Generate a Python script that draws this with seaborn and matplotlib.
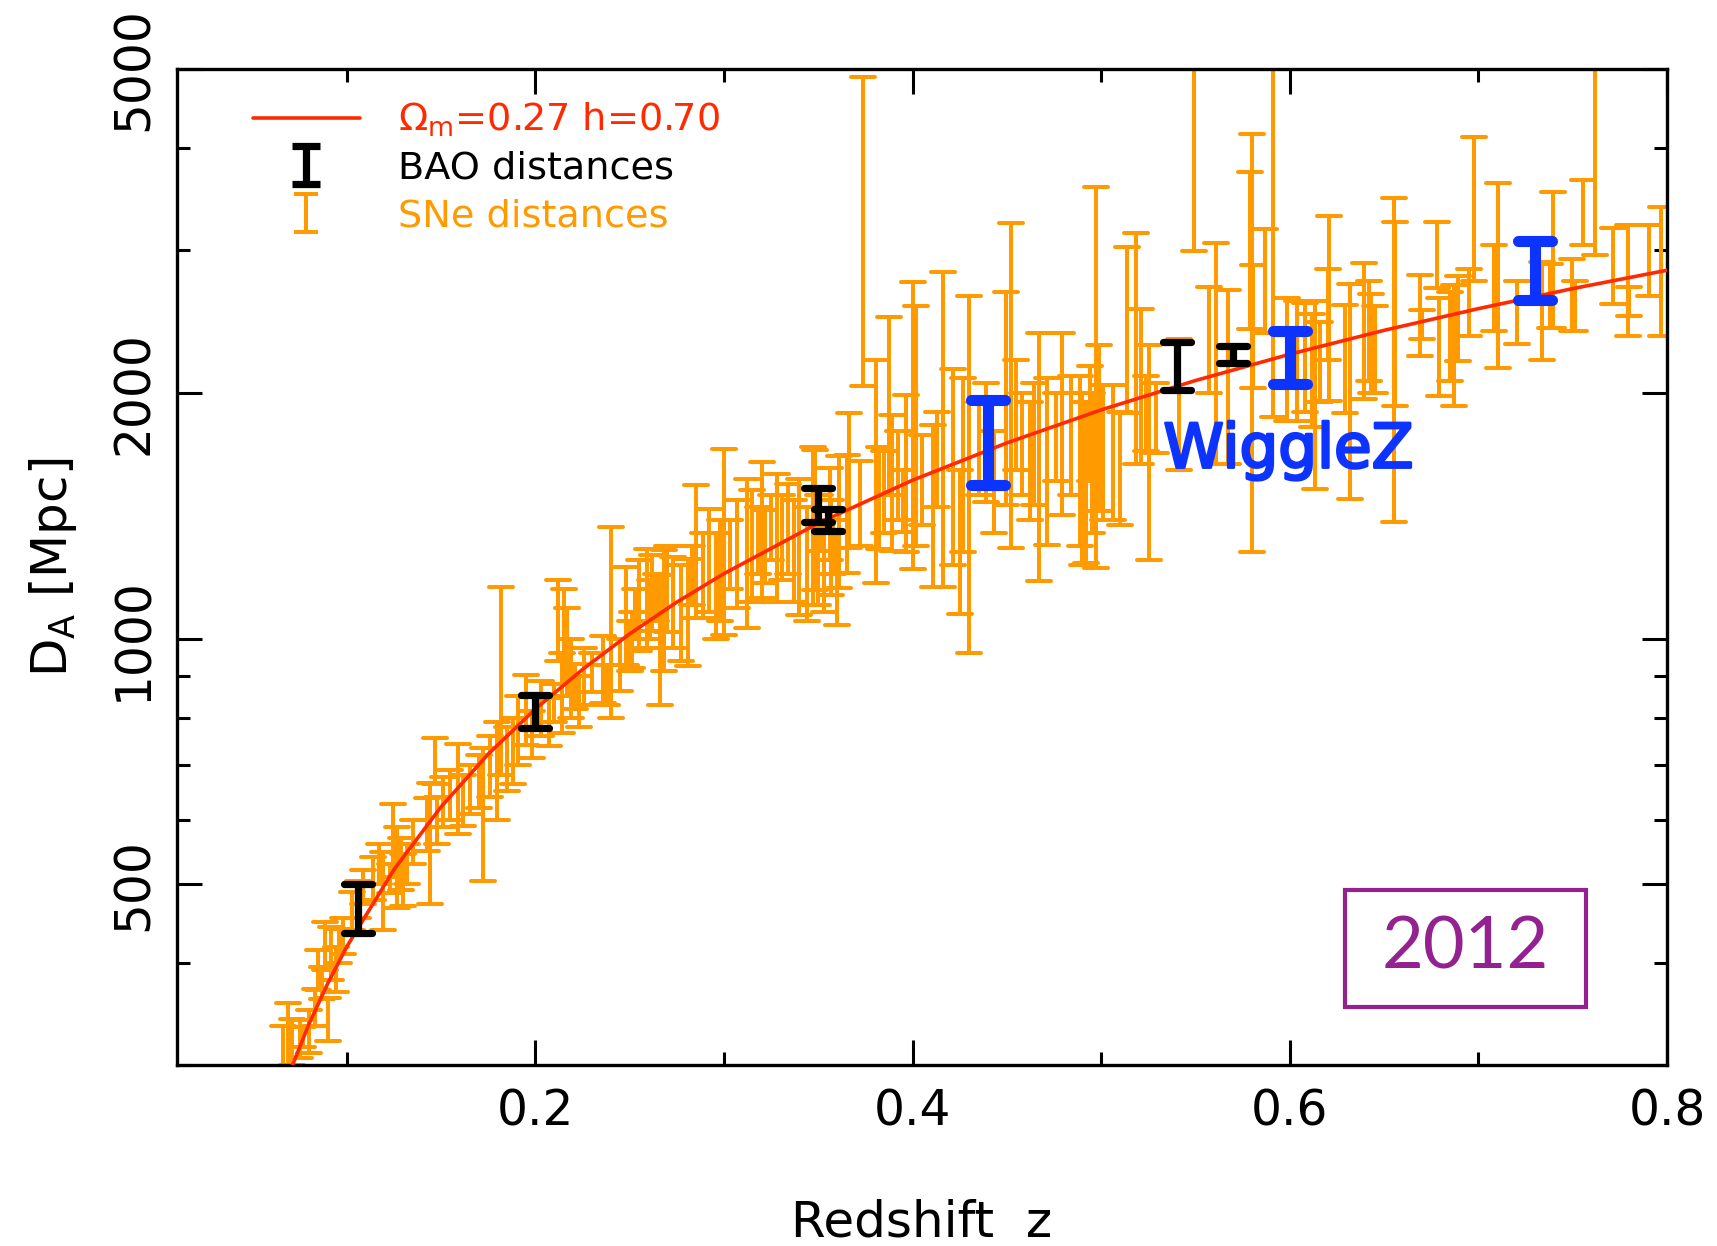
import numpy as np
import matplotlib
matplotlib.use("Agg")
import matplotlib.pyplot as plt
import matplotlib.patheffects as pe
import seaborn as sns
from matplotlib.markers import MarkerStyle
from matplotlib.patches import Rectangle
from matplotlib.ticker import NullFormatter

# ---------------- data ----------------
curve_z = [0.065, 0.070, 0.080, 0.090, 0.100, 0.125, 0.150, 0.175, 0.200, 0.225, 0.250,
           0.275, 0.300, 0.350, 0.400, 0.450, 0.500, 0.550, 0.600, 0.650, 0.700, 0.750, 0.800]
curve_d = [274, 295, 337, 378, 419, 521, 622, 722, 820, 917, 1014,
           1109, 1202, 1386, 1565, 1739, 1909, 2074, 2234, 2390, 2541, 2689, 2832]

bao_z = [0.106, 0.200, 0.350, 0.355, 0.540, 0.570]
bao_lo = [435, 777, 1391, 1356, 2020, 2178]
bao_hi = [500, 852, 1530, 1444, 2312, 2286]

wigglez_z = [0.44, 0.60, 0.73]
wigglez_lo = [1544, 2053, 2607]
wigglez_hi = [1963, 2384, 3079]

sne_z = [
    0.066, 0.069, 0.071, 0.075, 0.077, 0.080, 0.083, 0.085, 0.087, 0.0886,
    0.0903, 0.0915, 0.0942, 0.096, 0.098, 0.1027, 0.106, 0.1088, 0.1141, 0.117,
    0.1194, 0.1229, 0.1247, 0.1264, 0.129, 0.1299, 0.132, 0.135, 0.1423, 0.1441,
    0.1468, 0.1477, 0.1512, 0.1547, 0.1592, 0.1618, 0.1653, 0.170, 0.1724, 0.176,
    0.1796, 0.182, 0.185,
    0.188, 0.191, 0.195, 0.198, 0.203, 0.207, 0.210, 0.212, 0.214, 0.215,
    0.217, 0.219, 0.221, 0.223, 0.226, 0.230, 0.236, 0.238, 0.2403, 0.245,
    0.248, 0.250, 0.251, 0.253, 0.255, 0.259, 0.261, 0.262, 0.264, 0.266,
    0.268, 0.270, 0.273, 0.277, 0.281, 0.283, 0.285, 0.289, 0.292, 0.296,
    0.298, 0.300, 0.303, 0.307, 0.312, 0.315, 0.318, 0.320, 0.322, 0.325,
    0.328, 0.331, 0.334, 0.337, 0.340, 0.347, 0.351, 0.356, 0.358, 0.361,
    0.344, 0.348, 0.350, 0.353, 0.357, 0.360, 0.365, 0.3665, 0.372, 0.3735,
    0.3806, 0.382, 0.385, 0.3877, 0.389, 0.392, 0.395, 0.3965, 0.400, 0.402,
    0.405, 0.4106, 0.413, 0.416, 0.4212, 0.425, 0.4265, 0.430, 0.435, 0.439,
    0.443, 0.4494, 0.452, 0.4547, 0.458, 0.462, 0.4645, 0.467, 0.4715, 0.476,
    0.4794, 0.484, 0.490, 0.494, 0.497,
    0.489, 0.492, 0.495, 0.4988, 0.501, 0.506, 0.510, 0.5139, 0.5183, 0.521,
    0.5236, 0.5254, 0.529, 0.541, 0.5492, 0.557, 0.5607, 0.567, 0.579, 0.580,
    0.5806, 0.587, 0.5912, 0.5985, 0.604, 0.608, 0.612, 0.6136, 0.616, 0.620,
    0.6207, 0.6295, 0.632, 0.6392,
    0.6418, 0.643, 0.645, 0.655, 0.656, 0.6691, 0.670, 0.678, 0.6789, 0.685,
    0.6868, 0.6894, 0.695, 0.6974, 0.708, 0.7106, 0.7203, 0.7336, 0.738, 0.7397,
    0.7494, 0.751, 0.7556, 0.762, 0.7715, 0.7794, 0.780, 0.7904, 0.797,
]
sne_lo = [
    290, 288, 300, 306, 316, 310, 335, 371, 361, 392,
    321, 381, 369, 400, 410, 439, 455, 473, 478, 500,
    439, 487, 510, 467, 492, 470, 500, 530, 549, 473,
    663, 560, 587, 600, 576, 590, 610, 620, 505, 640,
    600, 681, 650,
    663, 700, 740, 715, 760, 739, 790, 940, 767, 880,
    850, 800, 820, 780, 830, 860, 834, 830, 800, 863,
    929, 913, 920, 1000, 965, 974, 1000, 1021, 1050, 830,
    912, 1020, 974, 938, 925, 1100, 1060, 1060, 1080, 1000,
    1050, 1011, 1150, 1090, 1030, 1110, 1200, 1121, 1170, 1250,
    1110, 1180, 1200, 1110, 1070, 1100, 1280, 1250, 1200, 1153,
    1050, 1147, 1100, 1080, 1130, 1040, 1205, 1291, 1300, 2040,
    1170, 1290, 1350, 1500, 1280, 1400, 1353, 1277, 1219, 1300,
    1380, 1157, 1450, 1157, 1230, 1073, 1277, 961, 1500, 1470,
    1350, 1460, 1291, 1609, 1500, 1400, 1460, 1177, 1305, 1560,
    1420, 1500, 1230, 1560, 1220,
    1300, 1240, 1350, 1433, 1400, 1400, 1380, 1892, 1640, 1640,
    1700, 1250, 1690, 1609, 2990, 2000, 1640, 1640, 2400, 1277,
    2029, 2370, 1870, 1850, 1850, 1900, 1820, 1528, 1950, 2200,
    1958, 1892, 1483, 1970,
    2072, 2000, 2000, 1390, 1932, 2220, 2330, 2690, 1986, 2072,
    1932, 2190, 2351, 2745, 2385, 2151, 2297, 2200, 2408, 2408,
    2385, 2385, 3044, 2960, 2572, 2351, 2488, 2635, 2351,
]
sne_hi = [
    335, 357, 342, 341, 334, 350, 372, 415, 396, 449,
    362, 443, 419, 440, 455, 489, 505, 520, 540, 560,
    547, 530, 627, 587, 570, 545, 560, 600, 638, 666,
    756, 640, 676, 690, 742, 680, 700, 720, 735, 760,
    790, 1159, 780,
    800, 850, 903, 815, 887, 846, 880, 1180, 960, 1150,
    1090, 1000, 930, 900, 975, 960, 1007, 929, 1371, 1000,
    1226, 1050, 1080, 1150, 1249, 1290, 1180, 1266, 1200, 1197,
    1284, 1300, 1260, 1231, 1254, 1300, 1542, 1350, 1444, 1350,
    1400, 1710, 1400, 1480, 1571, 1521, 1450, 1646, 1440, 1500,
    1594, 1500, 1550, 1480, 1571, 1718, 1500, 1620, 1400, 1677,
    1450, 1705, 1500, 1400, 1480, 1350, 1680, 1892, 1650, 4891,
    2198, 1720, 1700, 2483, 1880, 1800, 1609, 1990, 2743, 2560,
    1780, 1830, 1900, 2815, 2140, 1609, 2090, 2632, 1950, 2060,
    1800, 2660, 3240, 2200, 2000, 1950, 2060, 2373, 2090, 2000,
    2373, 2100, 2000, 2160, 3578,
    2100, 1950, 2000, 2290, 2050, 2050, 1900, 3025, 3150, 2540,
    2100, 2290, 2060, 2330, 5600, 2700, 3060, 2680, 3740, 4159,
    2871, 3180, 5500, 2620, 2600, 2580, 2500, 2600, 2450, 2840,
    3305, 2570, 2725, 2890,
    2745, 2650, 2560, 3470, 3250, 2797, 2530, 3250, 2620, 2660,
    2720, 2790, 2840, 4128, 3044, 3620, 2745, 2900, 2880, 3536,
    2920, 2745, 3654, 5500, 3190, 3220, 2700, 3220, 3390,
]

xticks_major = [0.2, 0.4, 0.6, 0.8]
xtick_labels = ["0.2", "0.4", "0.6", "0.8"]
xticks_minor = [0.1, 0.3, 0.5, 0.7]
yticks_major = [500, 1000, 2000, 5000]
ytick_labels = ["500", "1000", "2000", "5000"]
yticks_minor = [300, 400, 600, 700, 800, 900, 3000, 4000]

legend_labels = [r"$\Omega_{\rm m}$=0.27 h=0.70", "BAO distances", "SNe distances"]

RED = "#ff2a00"
ORANGE = "#ff9a00"
BLUE = "#0d33ff"
PURPLE = "#93218f"

# ---------------- style ----------------
sns.set_theme(style="ticks")
plt.rcParams["font.family"] = ["DejaVu Sans"]
plt.rcParams["mathtext.fontset"] = "dejavusans"

fig = plt.figure(figsize=(17.17, 12.46), dpi=100)
ax = fig.add_axes([0.1031, 0.1453, 0.8678, 0.7993])
ax.set_facecolor("white")


def draw_bars(z, lo, hi, color, lw, cap, zorder):
    lo = np.asarray(lo, dtype=float)
    hi = np.asarray(hi, dtype=float)
    mid = (lo + hi) / 2.0
    cont = ax.errorbar(z, mid, yerr=[mid - lo, hi - mid], fmt="none",
                       ecolor=color, elinewidth=lw, capsize=cap, capthick=lw,
                       zorder=zorder)
    for c in cont[1]:
        c.set_marker(MarkerStyle("_", capstyle="round"))
    for b in cont[2]:
        b.set_capstyle("round")
    return cont


sne_c = draw_bars(sne_z, sne_lo, sne_hi, ORANGE, 2.9, 8.5, 2)
sns.lineplot(x=curve_z, y=curve_d, ax=ax, color=RED, linewidth=2.6,
             zorder=3, legend=False, sort=True)
line_h = ax.get_lines()[-1]
bao_c = draw_bars(bao_z, bao_lo, bao_hi, "black", 5.2, 10, 4)
wig_c = draw_bars(wigglez_z, wigglez_lo, wigglez_hi, BLUE, 8.0, 12, 5)

ax.set_yscale("log")
ax.set_xlim(0.01, 0.8)
ax.set_ylim(300, 5000)

ax.set_xticks(xticks_major)
ax.set_xticklabels(xtick_labels)
ax.set_xticks(xticks_minor, minor=True)
ax.set_yticks(yticks_major)
ax.set_yticklabels(ytick_labels)
ax.set_yticks(yticks_minor, minor=True)
ax.yaxis.set_minor_formatter(NullFormatter())
ax.xaxis.set_minor_formatter(NullFormatter())

ax.tick_params(which="both", direction="in", top=True, right=True,
               width=2.2, color="black", labelcolor="black")
ax.tick_params(which="major", length=18, labelsize=35, pad=16)
ax.tick_params(which="minor", length=9.5)
ax.tick_params(axis="y", which="major", labelrotation=90, pad=14)
for lab in ax.get_yticklabels():
    lab.set_va("center")

for s in ax.spines.values():
    s.set_linewidth(2.4)
    s.set_color("black")
    s.set_visible(True)

ax.set_xlabel("Redshift  z", fontsize=36, color="black")
ax.xaxis.set_label_coords(0.5, -0.134)
ax.set_ylabel(r"D$_{\rm A}$ [Mpc]", fontsize=36, color="black")
ax.yaxis.set_label_coords(-0.066, 0.5)

ax.text(0.533, 1622, "WiggleZ", color=BLUE, fontsize=44, ha="left",
        va="baseline", zorder=6,
        path_effects=[pe.withStroke(linewidth=2.0, foreground=BLUE)])

ax.add_patch(Rectangle((0.784, 0.0582), 0.1616, 0.1175, transform=ax.transAxes,
                       fill=False, edgecolor=PURPLE, linewidth=3.0, zorder=6))
ax.text(0.8648, 0.117, "2012", transform=ax.transAxes, color=PURPLE,
        fontsize=52, family=["Lato", "DejaVu Sans"], ha="center", va="center",
        zorder=6)

leg = ax.legend(handles=[line_h, bao_c, sne_c], labels=legend_labels,
                loc="upper left", bbox_to_anchor=(0.051, 0.968), frameon=False,
                fontsize=27.5, handlelength=2.8, handletextpad=1.0,
                labelspacing=0.3, borderpad=0, borderaxespad=0)
for t, c in zip(leg.get_texts(), [RED, "black", ORANGE]):
    t.set_color(c)

fig.savefig("out.png", dpi=100, facecolor="white")
